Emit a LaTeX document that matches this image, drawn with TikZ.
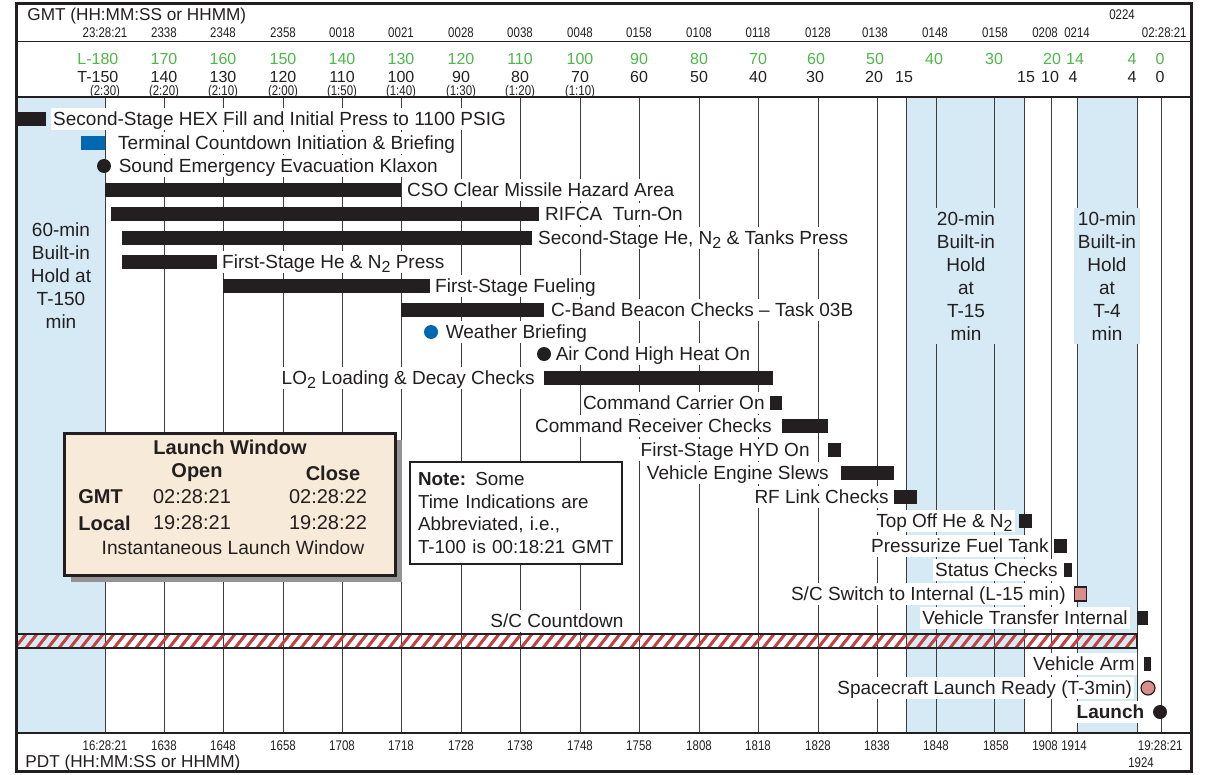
\documentclass[tikz,border=0pt]{standalone}
\usepackage{fontspec}
\setmainfont{Liberation Sans}
\newfontfamily\condfont[FakeStretch=0.82]{Liberation Sans}
\usepackage{tikz}
\usetikzlibrary{positioning, shadows}

\definecolor{ink}{HTML}{231F20}
\definecolor{holdblue}{HTML}{D6EAF5}
\definecolor{evtblue}{HTML}{0067B1}
\definecolor{lgreen}{HTML}{4DB748}
\definecolor{rose}{HTML}{D98E8C}
\definecolor{sand}{HTML}{F7EAD8}
\definecolor{hatchred}{HTML}{C8403F}
\definecolor{gridgray}{HTML}{3C3C3C}
\newcommand{\subtwo}{\raisebox{-0.35ex}{\fontsize{8}{9}\selectfont 2}}

\begin{document}
\begin{tikzpicture}[x=0.5pt, y=-0.5pt]
	\tikzstyle{gbar} = [fill=ink, inner sep=0pt, minimum height=7pt, anchor=west]
	\tikzstyle{evdot} = [circle, fill=ink, inner sep=0pt, minimum size=7pt]
	\tikzstyle{lbl} = [fill=white, inner sep=1pt, text height=8pt, text depth=1.2pt, text=ink, font=\fontsize{9.5}{11.5}\selectfont]
	\tikzstyle{holdtxt} = [fill=holdblue, inner sep=2pt, minimum width=31pt, align=center, text=ink, font=\fontsize{9.5}{11.5}\selectfont]
	\tikzstyle{numrow} = [inner sep=0pt, text height=5.8pt, text depth=0pt, font=\fontsize{8}{9}\selectfont]
	\tikzstyle{hdr} = [inner sep=0pt, text height=5pt, text depth=0pt, text=ink, font=\condfont\fontsize{7}{8}\selectfont]
	\tikzstyle{gline} = [gridgray, line width=0.5pt]
	\tikzstyle{wtxt} = [inner sep=0pt, text=ink, font=\fontsize{10}{12}\selectfont]

	\useasboundingbox (0,0) rectangle (1208,775);

	\fill[holdblue] (16,97) rectangle (105,733);
	\fill[holdblue] (906,97) rectangle (1024,733);
	\fill[holdblue] (1077,97) rectangle (1137,733);
	\foreach \x in {105,164,223,283,342,401,461,520,580,639,699,758,818,877,906,936,994,1024,1051,1077,1137,1161}
		\draw[gline] (\x,97) -- (\x,733);

	\node[anchor=west, inner sep=0pt, text=ink, font=\fontsize{8.6}{9}\selectfont] (gmt) at (27,16) {GMT (HH:MM:SS or HHMM)};
	\foreach \x/\t in {105/23:28:21, 164/2338, 223/2348, 283/2358, 342/0018, 401/0021, 461/0028, 520/0038, 580/0048, 639/0158, 699/0108, 758/0118, 818/0128, 875/0138, 935/0148, 995/0158, 1045/0208, 1077/0214}
		\node[hdr] (g\x) at (\x,33) {\t};
	\node[hdr] (g0224) at (1122,15) {0224};
	\node[hdr, anchor=east] (glast) at (1187,33) {02:28:21};
	\foreach \x/\t in {105/\llap{L-}180, 164/170, 223/160, 283/150, 342/140, 401/130, 461/120, 520/110, 580/100, 639/90, 699/80, 758/70, 816/60, 875/50, 934/40, 994/30, 1052/20, 1075/14, 1132/4, 1160/0}
		\node[numrow, text=lgreen] (l\x) at (\x,59) {\t};
	\foreach \x/\t in {105/\llap{T-}150, 164/140, 223/130, 283/120, 342/110, 401/100, 461/90, 520/80, 580/70, 639/60, 699/50, 758/40, 815/30, 874/20, 904/15, 1026/15, 1050/10, 1073/4, 1132/4, 1160/0}
		\node[numrow, text=ink] (t\x) at (\x,77) {\t};
	\foreach \x/\t in {105/(2:30), 164/(2:20), 223/(2:10), 283/(2:00), 342/(1:50), 401/(1:40), 461/(1:30), 520/(1:20), 580/(1:10)}
		\node[hdr] (p\x) at (\x,91) {\t};

	\node[anchor=west, inner sep=0pt, text=ink, font=\fontsize{8.6}{9}\selectfont] (pdt) at (25,763) {PDT (HH:MM:SS or HHMM)};
	\foreach \x/\t in {105/16:28:21, 164/1638, 223/1648, 283/1658, 342/1708, 401/1718, 461/1728, 520/1738, 580/1748, 639/1758, 699/1808, 758/1818, 818/1828, 877/1838, 936/1848, 996/1858, 1045/1908, 1074/1914}
		\node[hdr] (b\x) at (\x,745) {\t};
	\node[hdr, anchor=east] (blast) at (1183,745) {19:28:21};
	\node[hdr] (b1924) at (1141,762) {1924};

	\node[holdtxt] (h60) at (61,276) {60-min\\Built-in\\Hold at\\T-150\\min};
	\node[holdtxt] (h20) at (966,276) {20-min\\Built-in\\Hold\\at\\T-15\\min};
	\node[holdtxt] (h10) at (1107,276) {10-min\\Built-in\\Hold\\at\\T-4\\min};

	\node[gbar, minimum width=14.5pt] (hex) at (17,119) {};
	\node[lbl, right=2pt of hex] (hexl) {Second-Stage HEX Fill and Initial Press to 1100 PSIG};
	\node[gbar, fill=evtblue, minimum width=12pt] (tcd) at (81,143) {};
	\node[lbl, right=5pt of tcd] (tcdl) {Terminal Countdown Initiation \& Briefing};
	\node[evdot] (klax) at (104,166) {};
	\node[lbl, right=2.5pt of klax] (klaxl) {Sound Emergency Evacuation Klaxon};
	\node[gbar, minimum width=148pt] (cso) at (105,190) {};
	\node[lbl, right=1.5pt of cso] (csol) {CSO Clear Missile Hazard Area};
	\node[gbar, minimum width=214pt] (rifca) at (111,214) {};
	\node[lbl, right=1.5pt of rifca] (rifcal) {RIFCA~ Turn-On};
	\node[gbar, minimum width=205pt] (sshe) at (122,238) {};
	\node[lbl, right=1.5pt of sshe] (sshel) {Second-Stage He, N\subtwo{} \& Tanks Press};
	\node[gbar, minimum width=47.5pt] (fshe) at (122,262) {};
	\node[lbl, right=1pt of fshe] (fshel) {First-Stage He \& N\subtwo{} Press};
	\node[gbar, minimum width=103.5pt] (fuel) at (223,286) {};
	\node[lbl, right=1pt of fuel] (fuell) {First-Stage Fueling};
	\node[gbar, minimum width=71.5pt] (cband) at (401,310) {};
	\node[lbl, right=2pt of cband] (cbandl) {C-Band Beacon Checks -- Task 03B};
	\node[evdot, fill=evtblue] (wx) at (431,332) {};
	\node[lbl, right=2.5pt of wx] (wxl) {Weather Briefing};
	\node[evdot] (heat) at (544,354) {};
	\node[lbl, right=1pt of heat] (heatl) {Air Cond High Heat On};
	\node[gbar, minimum width=114.5pt] (lox) at (544,378) {};
	\node[lbl, left=3.5pt of lox] (loxl) {LO\subtwo{} Loading \& Decay Checks};
	\node[gbar, minimum width=6pt] (carr) at (770,403) {};
	\node[lbl, left=1.5pt of carr] (carrl) {Command Carrier On};
	\node[gbar, minimum width=23pt] (recv) at (782,426) {};
	\node[lbl, left=4pt of recv] (recvl) {Command Receiver Checks};
	\node[gbar, minimum width=6.5pt] (hyd) at (828,450) {};
	\node[lbl, left=8pt of hyd] (hydl) {First-Stage HYD On};
	\node[gbar, minimum width=26.5pt] (slew) at (841,473) {};
	\node[lbl, left=5pt of slew] (slewl) {Vehicle Engine Slews};
	\node[gbar, minimum width=11.5pt] (rf) at (894,497) {};
	\node[lbl, left=1.5pt of rf] (rfl) {RF Link Checks};
	\node[gbar, minimum width=6.5pt] (topoff) at (1019,521) {};
	\node[lbl, left=2pt of topoff] (topoffl) {Top Off He \& N\subtwo};
	\node[gbar, minimum width=6.5pt] (pft) at (1054,546) {};
	\node[lbl, left=1.5pt of pft] (pftl) {Pressurize Fuel Tank};
	\node[gbar, minimum width=4pt] (stat) at (1064,570) {};
	\node[lbl, left=2pt of stat] (statl) {Status Checks};
	\node[gbar, fill=rose, draw=ink, line width=0.6pt, minimum width=6pt] (scsw) at (1074,594) {};
	\node[lbl, left=3pt of scsw] (scswl) {S/C Switch to Internal (L-15 min)};
	\node[gbar, minimum width=5.5pt] (vti) at (1137,618) {};
	\node[lbl, left=3.5pt of vti] (vtil) {Vehicle Transfer Internal};

	\node[lbl] (sccd) at (557,621) {S/C Countdown};
	\begin{scope}
		\clip (16,634) rectangle (1137,648);
		\foreach \x in {4,15,...,1150}
			\draw[hatchred, line width=1.5pt] (\x,648) -- ++(11,-14);
	\end{scope}
	\draw[ink, line width=1pt] (16,634) rectangle (1137,648);

	\node[gbar, minimum width=3.5pt] (arm) at (1144,664) {};
	\node[lbl, left=3.5pt of arm] (arml) {Vehicle Arm};
	\node[evdot, fill=rose, draw=ink, line width=0.6pt] (ready) at (1148,688) {};
	\node[lbl, left=3pt of ready] (readyl) {Spacecraft Launch Ready (T-3min)};
	\node[evdot] (launch) at (1160,712) {};
	\node[lbl, left=3pt of launch, font=\bfseries\fontsize{9.5}{11.5}\selectfont] (launchl) {Launch};

	\node[draw=ink, line width=1.5pt, fill=sand, minimum width=165.5pt, minimum height=71pt,
		drop shadow={shadow xshift=3.5pt, shadow yshift=-3.5pt, fill=black!42, opacity=1}] (win) at (229.5,504) {};
	\node[wtxt, font=\bfseries\fontsize{10}{12}\selectfont] (wtitle) at (230,447) {Launch Window};
	\node[wtxt, font=\bfseries\fontsize{10}{12}\selectfont] (wopen) at (197,473) {Open};
	\node[wtxt, font=\bfseries\fontsize{10}{12}\selectfont] (wclose) at (333,473) {Close};
	\node[wtxt, anchor=west, font=\bfseries\fontsize{10}{12}\selectfont] (wgmt) at (78,497) {GMT};
	\node[wtxt] (wg1) at (192,497) {02:28:21};
	\node[wtxt] (wg2) at (328,497) {02:28:22};
	\node[wtxt, anchor=west, font=\bfseries\fontsize{10}{12}\selectfont] (wloc) at (78,523) {Local};
	\node[wtxt] (wl1) at (192,523) {19:28:21};
	\node[wtxt] (wl2) at (328,523) {19:28:22};
	\node[wtxt, font=\fontsize{9.6}{12}\selectfont] (winst) at (233,548) {Instantaneous Launch Window};

	\node[draw=ink, line width=0.6pt, fill=white, align=left, text=ink, minimum width=106pt, minimum height=51pt,
		text width=98pt, inner xsep=4pt, font=\fontsize{9.4}{11.3}\selectfont] (note) at (516,513)
		{\textbf{Note:} Some\\Time Indications are\\Abbreviated, i.e.,\\T-100 is 00:18:21 GMT};

	\draw[ink, line width=0.5pt] (16,42) -- (1191,42);
	\draw[ink, line width=1pt] (16,97) -- (1191,97);
	\draw[ink, line width=1pt] (16,733) -- (1191,733);
	\draw[ink, line width=1.5pt] (16,4) rectangle (1191,771);
\end{tikzpicture}
\end{document}
